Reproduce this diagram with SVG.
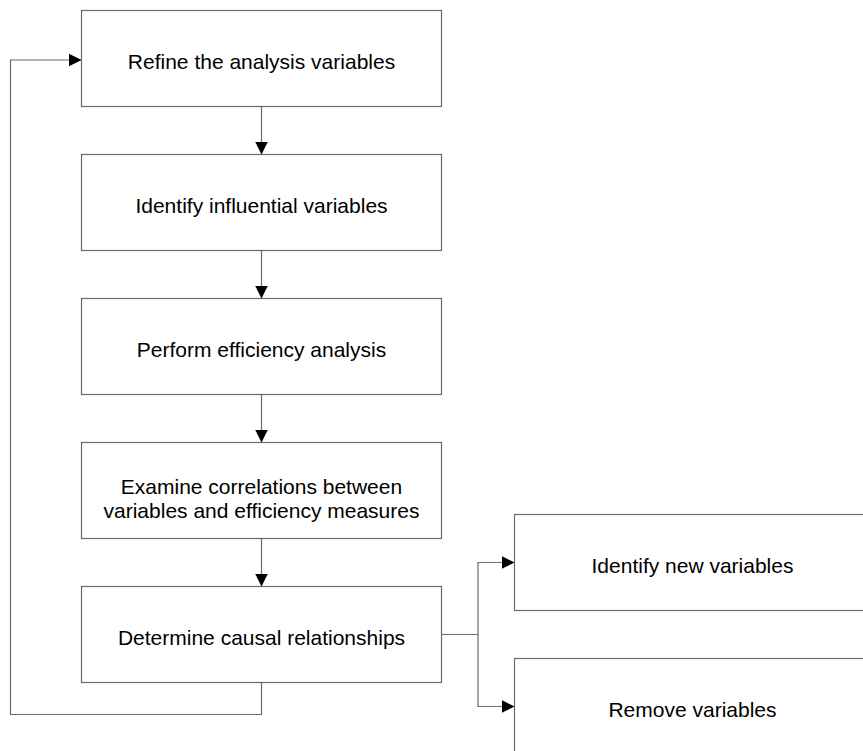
<svg xmlns="http://www.w3.org/2000/svg" width="863" height="751" viewBox="0 0 863 751">
<defs>
<marker id="arr" markerUnits="userSpaceOnUse" markerWidth="13" markerHeight="13" refX="13" refY="6.5" orient="auto">
<path d="M0,0 L13,6.5 L0,13 z" fill="#000"/>
</marker>
<style>
.box{fill:#fff;stroke:#6b6b6b;stroke-width:1.2}
.lbl{font-family:"Liberation Sans",Arial,sans-serif;font-size:21px;fill:#000;text-anchor:middle}
.con{fill:none;stroke:#6b6b6b;stroke-width:1.2}
</style>
</defs>
<rect width="863" height="751" fill="#fff"/>
<g id="connectors">
<path class="con" d="M261.5,106.5 V154.5" marker-end="url(#arr)"/>
<path class="con" d="M261.5,250.5 V298.5" marker-end="url(#arr)"/>
<path class="con" d="M261.5,394.5 V442.5" marker-end="url(#arr)"/>
<path class="con" d="M261.5,538.5 V586.5" marker-end="url(#arr)"/>
<path class="con" d="M441.5,634.5 H478"/>
<path class="con" d="M478,634.5 V562.5 H514.5" marker-end="url(#arr)"/>
<path class="con" d="M478,634.5 V706.5 H514.5" marker-end="url(#arr)"/>
<path class="con" d="M261.5,682.5 V714.5 H10.5 V60 H81.5" marker-end="url(#arr)"/>
</g>
<g id="n1"><rect class="box" x="81.5" y="10.5" width="360" height="96"/><text class="lbl" x="261.5" y="68.5">Refine the analysis variables</text></g>
<g id="n2"><rect class="box" x="81.5" y="154.5" width="360" height="96"/><text class="lbl" x="261.5" y="212.5">Identify influential variables</text></g>
<g id="n3"><rect class="box" x="81.5" y="298.5" width="360" height="96"/><text class="lbl" x="261.5" y="356.5">Perform efficiency analysis</text></g>
<g id="n4"><rect class="box" x="81.5" y="442.5" width="360" height="96"/><text class="lbl" x="261.5" y="494">Examine correlations between</text><text class="lbl" x="261.5" y="518">variables and efficiency measures</text></g>
<g id="n5"><rect class="box" x="81.5" y="586.5" width="360" height="96"/><text class="lbl" x="261.5" y="644.5">Determine causal relationships</text></g>
<g id="n6"><rect class="box" x="514.5" y="514.5" width="356" height="96"/><text class="lbl" x="692.5" y="572.5">Identify new variables</text></g>
<g id="n7"><rect class="box" x="514.5" y="658.5" width="356" height="96"/><text class="lbl" x="692.5" y="716.5">Remove variables</text></g>
</svg>
